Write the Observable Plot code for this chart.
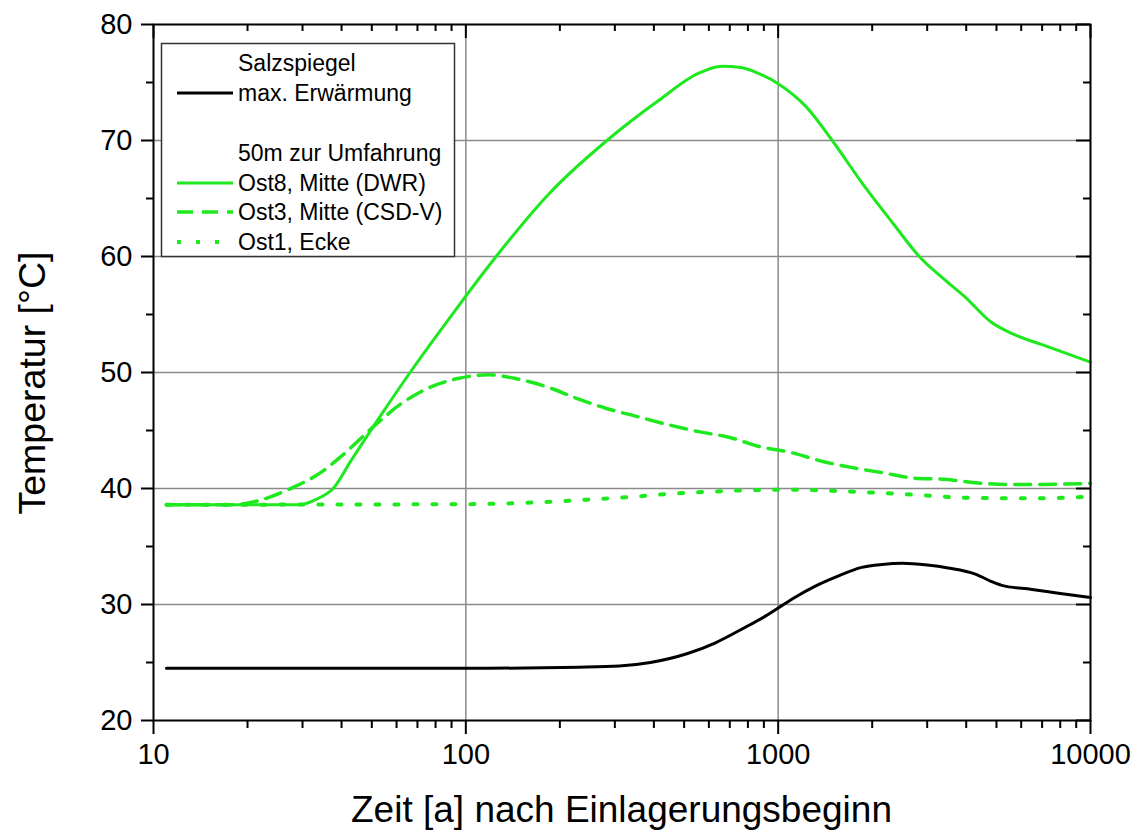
<!DOCTYPE html>
<html>
<head>
<meta charset="utf-8">
<script src="https://cdn.jsdelivr.net/npm/d3@7"></script>
<script src="https://cdn.jsdelivr.net/npm/@observablehq/plot@0.6"></script>
<style>
  html, body { margin: 0; padding: 0; background: #fff; }
  #chart { position: relative; width: 1139px; height: 831px; }
  #chart svg { font-family: "Liberation Sans", Arial, sans-serif; }
</style>
</head>
<body>
<div id="chart"></div>
<script>
// Salzspiegel, maximale Erwärmung
const salzZeit = [11, 100, 230, 310, 390, 510, 630, 780, 910, 1000, 1130, 1320, 1540, 1850, 2150, 2500, 3000, 3500, 4300, 4800, 5200, 6500, 8000, 10000];
const salzTemp = [24.5, 24.5, 24.6, 24.7, 25.0, 25.75, 26.7, 28.0, 29.0, 29.7, 30.6, 31.6, 32.4, 33.2, 33.45, 33.55, 33.4, 33.15, 32.6, 32.0, 31.65, 31.3, 30.95, 30.6];

// 50 m zur Umfahrung: Ost8, Mitte (DWR)
const ost8Zeit = [11, 29.4, 33.4, 37.6, 42.9, 53.1, 66.3, 91, 125, 186, 283, 412, 557, 660, 760, 845, 1000, 1230, 1490, 1860, 2340, 2830, 3410, 3970, 4780, 5780, 7000, 10000];
const ost8Temp = [38.6, 38.6, 39.1, 40.0, 42.4, 46.2, 50.0, 55.1, 60.0, 65.5, 70.0, 73.4, 75.8, 76.4, 76.3, 75.9, 74.9, 72.9, 70.0, 66.3, 62.8, 60.0, 58.0, 56.5, 54.4, 53.2, 52.4, 50.9];

// Ost3, Mitte (CSD-V)
const ost3Zeit = [11, 18, 22, 28, 34, 40, 50, 62, 78, 95, 118, 143, 180, 225, 282, 354, 444, 557, 700, 876, 1100, 1380, 1730, 2170, 2720, 3410, 4280, 5370, 7000, 10000];
const ost3Temp = [38.6, 38.6, 39.0, 40.1, 41.3, 42.8, 45.2, 47.3, 48.8, 49.5, 49.8, 49.5, 48.8, 47.8, 46.9, 46.2, 45.5, 44.9, 44.4, 43.6, 43.1, 42.35, 41.8, 41.35, 40.9, 40.8, 40.5, 40.35, 40.35, 40.45];

// Ost1, Ecke
const ost1Zeit = [11, 100, 150, 200, 250, 350, 450, 600, 800, 1050, 1500, 2000, 2800, 4000, 6500, 10000];
const ost1Temp = [38.6, 38.65, 38.75, 38.9, 39.05, 39.3, 39.55, 39.72, 39.85, 39.9, 39.8, 39.65, 39.45, 39.2, 39.15, 39.3];

// Achsen
const xMajor = [10, 100, 1000, 10000];
const xMinor = [20, 30, 40, 50, 60, 70, 80, 90, 200, 300, 400, 500, 600, 700, 800, 900, 2000, 3000, 4000, 5000, 6000, 7000, 8000, 9000];
const yMajor = [20, 30, 40, 50, 60, 70, 80];
const yMinor = [25, 35, 45, 55, 65, 75];
const xGrid = [100, 1000];
const yGrid = [30, 40, 50, 60, 70];

const xTitle = "Zeit [a] nach Einlagerungsbeginn";
const yTitle = "Temperatur [°C]";

const legendHeads = ["Salzspiegel", "50m zur Umfahrung"];
const seriesNames = ["max. Erwärmung", "Ost8, Mitte (DWR)", "Ost3, Mitte (CSD-V)", "Ost1, Ecke"];

const green = "#1ee81e";
const W = 1139, H = 831;
const mL = 153, mR = 49, mT = 24, mB = 111;
const innerW = W - mL - mR, innerH = H - mT - mB;

const rows = (ts, vs) => ts.map((t, i) => ({t, v: vs[i]}));

const chart = Plot.plot({
  width: W,
  height: H,
  marginLeft: mL,
  marginRight: mR,
  marginTop: mT,
  marginBottom: mB,
  style: {fontFamily: "'Liberation Sans', Arial, sans-serif", color: "black", background: "white"},
  x: {type: "log", domain: [10, 10000]},
  y: {domain: [20, 80]},
  marks: [
    Plot.ruleX(xGrid, {stroke: "#8a8a8a", strokeWidth: 1.5}),
    Plot.ruleY(yGrid, {stroke: "#8a8a8a", strokeWidth: 1.5}),
    Plot.line(rows(ost1Zeit, ost1Temp), {x: "t", y: "v", stroke: green, strokeWidth: 4, strokeDasharray: "4,15", curve: "monotone-x"}),
    Plot.line(rows(ost3Zeit, ost3Temp), {x: "t", y: "v", stroke: green, strokeWidth: 3.5, strokeDasharray: "16,9", curve: "monotone-x"}),
    Plot.line(rows(ost8Zeit, ost8Temp), {x: "t", y: "v", stroke: green, strokeWidth: 3, curve: "monotone-x"}),
    Plot.line(rows(salzZeit, salzTemp), {x: "t", y: "v", stroke: "black", strokeWidth: 3, curve: "monotone-x"}),
    // outer ticks with labels on left and bottom
    Plot.axisY({ticks: yMajor, tickSize: 12, tickPadding: 9, tickFormat: d => String(d), fontSize: 29, label: null, strokeWidth: 2}),
    Plot.axisY({ticks: yMinor, tickSize: 7, tickFormat: () => "", label: null, strokeWidth: 2}),
    Plot.axisX({ticks: xMajor, tickSize: 14, tickPadding: 9, tickFormat: d => String(d), fontSize: 29, label: null, strokeWidth: 2}),
    Plot.axisX({ticks: xMinor, tickSize: 8, tickFormat: () => "", label: null, strokeWidth: 2}),
    // inner ticks on top and right
    Plot.tickX(xMajor, {x: d => d, insetBottom: innerH - 14, strokeWidth: 2}),
    Plot.tickX(xMinor, {x: d => d, insetBottom: innerH - 7, strokeWidth: 2}),
    Plot.tickY(yMajor, {y: d => d, insetLeft: innerW - 14, strokeWidth: 2}),
    Plot.tickY(yMinor, {y: d => d, insetLeft: innerW - 7, strokeWidth: 2}),
    Plot.frame({stroke: "black", strokeWidth: 2})
  ]
});

document.getElementById("chart").appendChild(chart);

const svg = d3.select(chart);

// axis titles
svg.append("text")
  .attr("x", mL + innerW / 2)
  .attr("y", 822)
  .attr("text-anchor", "middle")
  .attr("font-size", 37)
  .attr("fill", "black")
  .text(xTitle);

svg.append("text")
  .attr("transform", `translate(45,${mT + innerH / 2 + 11}) rotate(-90)`)
  .attr("text-anchor", "middle")
  .attr("font-size", 37.5)
  .attr("fill", "black")
  .text(yTitle);

// legend box in the upper left of the plot area
const lg = svg.append("g").attr("font-size", 23).attr("fill", "black").attr("text-anchor", "start");
lg.append("rect")
  .attr("x", 161.5).attr("y", 43.5)
  .attr("width", 293).attr("height", 213)
  .attr("fill", "white").attr("stroke", "#333").attr("stroke-width", 1.5);

const textX = 238, sx1 = 177, sx2 = 233;
const legendRows = [
  {y: 63, text: legendHeads[0]},
  {y: 93, text: seriesNames[0], stroke: "black", dash: null, w: 3},
  {y: 153, text: legendHeads[1]},
  {y: 183, text: seriesNames[1], stroke: green, dash: null, w: 3},
  {y: 212, text: seriesNames[2], stroke: green, dash: "16,9", w: 3.5},
  {y: 242, text: seriesNames[3], stroke: green, dash: "4,15", w: 4}
];
for (const r of legendRows) {
  if (r.stroke) {
    lg.append("line")
      .attr("x1", sx1).attr("x2", sx2).attr("y1", r.y).attr("y2", r.y)
      .attr("stroke", r.stroke).attr("stroke-width", r.w)
      .attr("stroke-dasharray", r.dash);
  }
  lg.append("text")
    .attr("x", textX).attr("y", r.y + 8)
    .attr("text-anchor", "start")
    .text(r.text);
}
</script>
</body>
</html>
